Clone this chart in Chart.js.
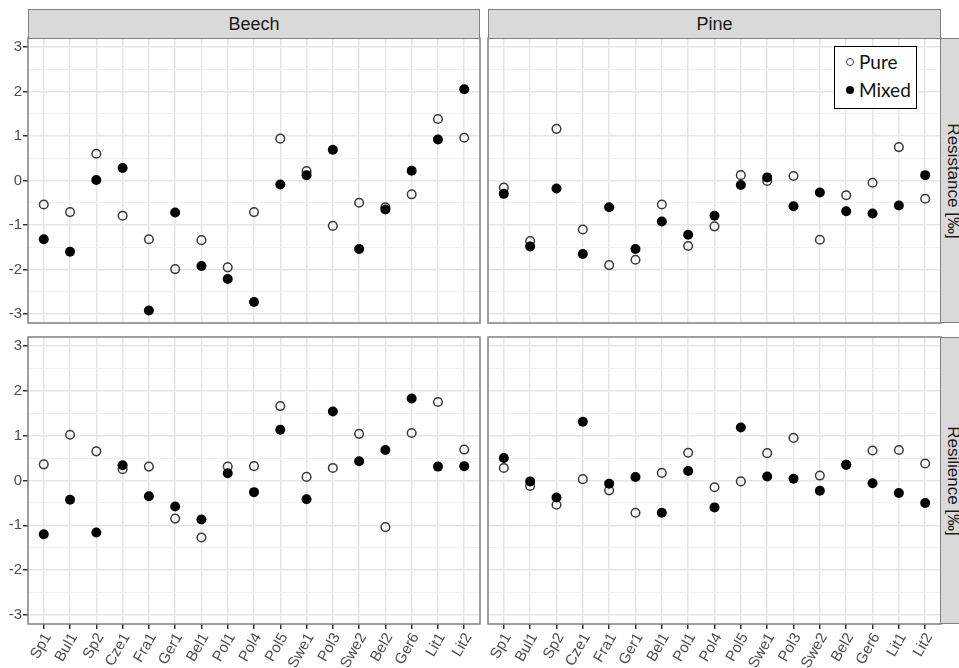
<!DOCTYPE html>
<html><head><meta charset="utf-8">
<script src="https://cdn.jsdelivr.net/npm/chart.js@4.4.1/dist/chart.umd.min.js"></script>
<style>
html,body{margin:0;padding:0;background:#fff;width:959px;height:668px;overflow:hidden;position:relative;}
canvas{position:absolute;}
.strip{position:absolute;background:#d9d9d9;border:1.5px solid #808080;box-sizing:border-box;font-family:'Liberation Sans',Arial,sans-serif;color:#1a1a1a;display:flex;align-items:center;justify-content:center;font-size:18px;}
.vstrip{font-size:17px;}
.vstrip span{display:block;transform:rotate(90deg);white-space:nowrap;}
#legend{position:absolute;left:834px;top:46px;width:83px;height:63px;border:1px solid #000;background:#fff;box-sizing:border-box;font-family:Lato,'Open Sans',sans-serif;font-size:19px;color:#111;}
#legend .li{position:absolute;left:24px;height:24px;line-height:24px;}
#legend .mk{position:absolute;left:-13px;top:8px;width:8px;height:8px;border-radius:50%;box-sizing:border-box;}
#legend .open{border:1.4px solid #444;background:#fff;}
#legend .fill{background:#000;}
</style></head>
<body>
<canvas id="cTL" width="490" height="305" style="left:0px;top:28px"></canvas>
<canvas id="cTR" width="473" height="305" style="left:478px;top:28px"></canvas>
<canvas id="cBL" width="490" height="341" style="left:0px;top:327px"></canvas>
<canvas id="cBR" width="473" height="341" style="left:478px;top:327px"></canvas>

<div class="strip" style="left:28px;top:9px;width:452px;height:30px;">Beech</div>
<div class="strip" style="left:488px;top:9px;width:453px;height:30px;">Pine</div>
<div class="strip vstrip" style="left:940px;top:38px;width:26px;height:285px;"><span>Resistance [‰]</span></div>
<div class="strip vstrip" style="left:940px;top:337px;width:26px;height:287px;"><span>Resilience [‰]</span></div>

<div id="legend">
  <div class="li" style="top:3px;"><span class="mk open"></span>Pure</div>
  <div class="li" style="top:31px;"><span class="mk fill"></span>Mixed</div>
</div>

<script>
const categories = ['Sp1','Bul1','Sp2','Cze1','Fra1','Ger1','Bel1','Pol1','Pol4','Pol5','Swe1','Pol3','Swe2','Bel2','Ger6','Lit1','Lit2'];

const beechResistancePure  = [-0.54,-0.71,0.60,-0.79,-1.32,-1.99,-1.34,-1.95,-0.71,0.94,0.21,-1.02,-0.50,-0.60,-0.31,1.38,0.96];
const beechResistanceMixed = [-1.32,-1.60,0.01,0.28,-2.92,-0.72,-1.92,-2.21,-2.73,-0.09,0.12,0.69,-1.54,-0.65,0.22,0.92,2.05];
const pineResistancePure   = [-0.16,-1.36,1.16,-1.10,-1.90,-1.78,-0.54,-1.47,-1.03,0.12,-0.01,0.10,-1.33,-0.33,-0.05,0.75,-0.41];
const pineResistanceMixed  = [-0.30,-1.48,-0.18,-1.65,-0.60,-1.54,-0.92,-1.22,-0.79,-0.10,0.07,-0.58,-0.27,-0.69,-0.74,-0.56,0.12];
const beechResiliencePure  = [0.36,1.02,0.65,0.25,0.31,-0.85,-1.27,0.31,0.32,1.66,0.08,0.28,1.04,-1.04,1.06,1.75,0.69];
const beechResilienceMixed = [-1.20,-0.43,-1.16,0.34,-0.35,-0.58,-0.87,0.16,-0.26,1.13,-0.42,1.54,0.43,0.68,1.83,0.31,0.32];
const pineResiliencePure   = [0.28,-0.12,-0.54,0.03,-0.22,-0.72,0.17,0.62,-0.15,-0.02,0.61,0.95,0.11,0.35,0.67,0.68,0.38];
const pineResilienceMixed  = [0.50,-0.02,-0.38,1.31,-0.07,0.08,-0.72,0.21,-0.60,1.18,0.09,0.04,-0.23,0.35,-0.06,-0.28,-0.50];

const yMajorTicks = [-3,-2,-1,0,1,2,3];
const yMinorTicks = [-2.5,-1.5,-0.5,0.5,1.5,2.5];
const seriesNames = ['Pure','Mixed'];

const FONT = "'Liberation Sans', Arial, sans-serif";

const panelBox = {
  id: 'panelBox',
  beforeDatasetsDraw(chart) {
    const a = chart.chartArea, ctx = chart.ctx;
    ctx.save();
    ctx.strokeStyle = '#808080';
    ctx.lineWidth = 1.5;
    ctx.strokeRect(a.left, a.top, a.right - a.left, a.bottom - a.top);
    ctx.restore();
  }
};

function isMajor(v) { return yMajorTicks.includes(v); }

function makePanel(id, pure, mixed, showY, showX, pad) {
  const toPts = arr => arr.map((v, i) => ({x: i, y: v}));
  return new Chart(document.getElementById(id), {
    type: 'scatter',
    data: {
      datasets: [
        { label: seriesNames[0], data: toPts(pure), order: 2,
          pointRadius: 4.3, pointBorderWidth: 1.5, pointBorderColor: '#3a3a3a',
          pointBackgroundColor: 'rgba(255,255,255,0)' },
        { label: seriesNames[1], data: toPts(mixed), order: 1,
          pointRadius: 5, pointBorderWidth: 0, pointBackgroundColor: '#000', pointBorderColor: '#000' }
      ]
    },
    options: {
      responsive: false,
      animation: false,
      devicePixelRatio: 1,
      layout: { padding: pad },
      plugins: { legend: { display: false }, tooltip: { enabled: false } },
      scales: {
        x: {
          type: 'linear', min: -0.6, max: 16.6,
          afterBuildTicks: s => { s.ticks = categories.map((c, i) => ({value: i})); },
          afterFit: s => { s.height = showX ? 44 : 0; },
          border: { display: false },
          grid: { color: '#e6e6e6', lineWidth: 1.5, drawTicks: showX, tickLength: 5, tickColor: '#333', tickWidth: 1.5 },
          ticks: { display: showX, autoSkip: false, minRotation: 60, maxRotation: 60, padding: 1, labelOffset: 4,
                   color: '#4d4d4d', font: { family: FONT, size: 15 },
                   callback: v => categories[v] }
        },
        y: {
          type: 'linear', min: -3.2, max: 3.2,
          afterBuildTicks: s => { s.ticks = yMajorTicks.concat(yMinorTicks).sort((a, b) => a - b).map(v => ({value: v})); },
          afterFit: s => { s.width = showY ? 28 : 0; },
          border: { display: false },
          grid: {
            color: c => (c.tick && isMajor(c.tick.value)) ? '#e6e6e6' : '#f1f1f1',
            lineWidth: c => (c.tick && isMajor(c.tick.value)) ? 1.5 : 1,
            drawTicks: showY, tickLength: 5, tickWidth: 1.5,
            tickColor: c => (c.tick && isMajor(c.tick.value)) ? '#333' : 'rgba(0,0,0,0)'
          },
          ticks: { display: showY, autoSkip: false, padding: 1, color: '#4d4d4d',
                   font: { family: FONT, size: 15 },
                   callback: v => isMajor(v) ? String(v) : '' }
        }
      }
    },
    plugins: [panelBox]
  });
}

makePanel('cTL', beechResistancePure, beechResistanceMixed, true, false, {top: 10, bottom: 10, right: 10, left: 0});
makePanel('cTR', pineResistancePure, pineResistanceMixed, false, false, {top: 10, bottom: 10, right: 10, left: 10});
makePanel('cBL', beechResiliencePure, beechResilienceMixed, true, true, {top: 10, bottom: 0, right: 10, left: 0});
makePanel('cBR', pineResiliencePure, pineResilienceMixed, false, true, {top: 10, bottom: 0, right: 10, left: 10});
</script>
</body></html>
